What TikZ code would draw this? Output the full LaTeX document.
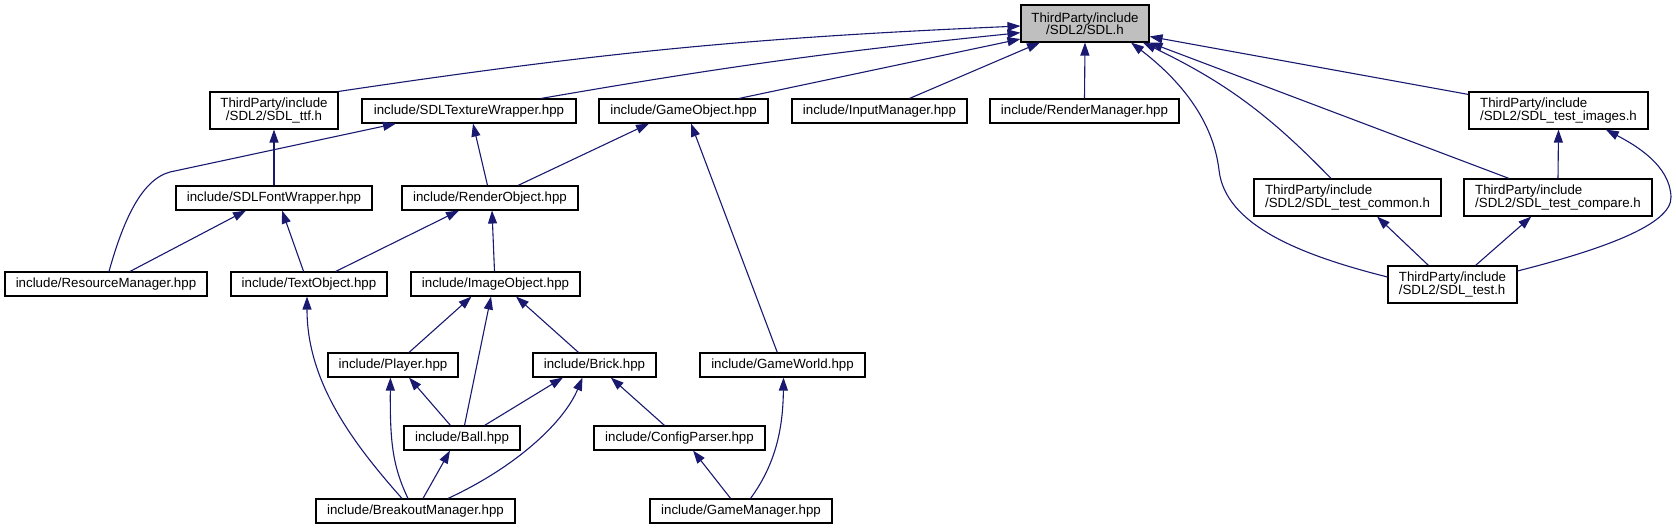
\documentclass[tikz,border=0pt]{standalone}
\usepackage{fontspec}
\setmainfont{Liberation Sans}
\usetikzlibrary{arrows.meta,calc}
\definecolor{edgeblue}{HTML}{191970}
\definecolor{rootgrey}{HTML}{BFBFBF}
\begin{document}
\begin{tikzpicture}[x=1pt,y=-1pt,
  box/.style={draw=black,line width=1.1pt,fill=white,inner sep=0pt,minimum height=24pt,font=\fontsize{13.3}{12.4}\selectfont,text=black},
  tall/.style={box,minimum height=37pt},
  edge/.style={draw=edgeblue,line width=1.1pt,-{Triangle[length=13pt,width=9pt]}}]
\useasboundingbox (0,0) rectangle (1676,529);
% nodes
\node[tall,fill=rootgrey,minimum width=128pt,align=center] (sdl) at (1085,23.5) {ThirdParty/include\\/SDL2/SDL.h};
\node[tall,minimum width=128pt,align=center] (ttf) at (274,110.5) {ThirdParty/include\\/SDL2/SDL\_ttf.h};
\node[box,minimum width=214pt] (tex) at (469,111) {include/SDLTextureWrapper.hpp};
\node[box,minimum width=169pt] (gobj) at (683.5,111) {include/GameObject.hpp};
\node[box,minimum width=175pt] (inp) at (879.5,111) {include/InputManager.hpp};
\node[box,minimum width=189pt] (rman) at (1084.5,111) {include/RenderManager.hpp};
\node[tall,minimum width=179pt,align=left] (images) at (1558.5,110.5) {ThirdParty/include\\/SDL2/SDL\_test\_images.h};
\node[box,minimum width=196pt] (font) at (274,198) {include/SDLFontWrapper.hpp};
\node[box,minimum width=176pt] (robj) at (490,198) {include/RenderObject.hpp};
\node[tall,minimum width=187pt,align=left] (tcom) at (1347.5,197.5) {ThirdParty/include\\/SDL2/SDL\_test\_common.h};
\node[tall,minimum width=188pt,align=left] (tcmp) at (1558,197.5) {ThirdParty/include\\/SDL2/SDL\_test\_compare.h};
\node[tall,minimum width=129pt,align=left] (test) at (1452.5,284.5) {ThirdParty/include\\/SDL2/SDL\_test.h};
\node[box,minimum width=202pt] (res) at (106,284) {include/ResourceManager.hpp};
\node[box,minimum width=156pt] (txt) at (309,284) {include/TextObject.hpp};
\node[box,minimum width=169pt] (iobj) at (495.5,284) {include/ImageObject.hpp};
\node[box,minimum width=130pt] (player) at (393,365) {include/Player.hpp};
\node[box,minimum width=123pt] (brick) at (594.5,365) {include/Brick.hpp};
\node[box,minimum width=165pt] (gw) at (782.5,365) {include/GameWorld.hpp};
\node[box,minimum width=116pt] (ball) at (462,438) {include/Ball.hpp};
\node[box,minimum width=171pt] (cfg) at (679.5,438) {include/ConfigParser.hpp};
\node[box,minimum width=199pt] (bm) at (415.5,511) {include/BreakoutManager.hpp};
\node[box,minimum width=182pt] (gm) at (741,511) {include/GameManager.hpp};
% edges into SDL.h
\draw[edge] (ttf.north east) to[bend left=3] ($(sdl.west)+(0,2.5)$);
\draw[edge] ($(tex.north)+(72,0)$) to[bend left=2] ($(sdl.west)+(0,9.2)$);
\draw[edge] ($(gobj.north)+(55.5,0)$) -- ($(sdl.west)+(0,15.5)$);
\draw[edge] ($(inp.north)+(30,0)$) -- ($(sdl.south)+(-45,0)$);
\draw[edge] (rman.north) -- (sdl.south);
\draw[edge] ($(images.north west)+(0,3)$) -- ($(sdl.east)+(0,13)$);
\draw[edge] ($(tcom.north)+(-16.5,0)$) to[bend right=10] ($(sdl.south)+(58,0)$);
\draw[edge] ($(tcmp.north)+(-49,0)$) -- (sdl.south east);
\draw[edge] ($(test.west)+(0,-7.5)$) .. controls (1300,255) and (1225,225) .. (1219,170) .. controls (1213,120) and (1180,80) .. ($(sdl.south)+(46,0)$);
% right cluster
\draw[edge] ($(test.north)+(-24,0)$) -- ($(tcom.south)+(29.5,0)$);
\draw[edge] ($(test.north)+(23,0)$) -- ($(tcmp.south)+(-26.7,0)$);
\draw[edge] (tcmp.north) -- (images.south);
\draw[edge] ($(test.east)+(0,-13.5)$) .. controls (1600,250) and (1672,225) .. (1671,197) .. controls (1670,165) and (1635,145) .. ($(images.south)+(47.3,0)$);
% left cluster
\draw[edge] ($(res.north)+(3,0)$) .. controls (122,225) and (140,180) .. (170,172) -- ($(tex.south)+(-73,0)$);
\draw[edge] (font.north) -- (ttf.south);
\draw[edge] ($(robj.north)+(-2.5,0)$) -- ($(tex.south)+(4,0)$);
\draw[edge] ($(robj.north)+(28,0)$) -- ($(gobj.south)+(-34.5,0)$);
\draw[edge] ($(gw.north)+(-5.2,0)$) -- ($(gobj.south)+(7.5,0)$);
\draw[edge] ($(res.north)+(24,0)$) -- ($(font.south)+(-28,0)$);
\draw[edge] ($(txt.north)+(-5.4,0)$) -- ($(font.south)+(8,0)$);
\draw[edge] ($(txt.north)+(26.7,0)$) -- ($(robj.south)+(-31,0)$);
\draw[edge] ($(iobj.north)+(-1,0)$) -- ($(robj.south)+(2,0)$);
\draw[edge] ($(player.north)+(16,0)$) -- ($(iobj.south)+(-24,0)$);
\draw[edge] ($(ball.north)+(2.5,0)$) -- ($(iobj.south)+(-4.5,0)$);
\draw[edge] ($(brick.north)+(-16,0)$) -- ($(iobj.south)+(20.5,0)$);
\draw[edge] ($(bm.north)+(-13.5,0)$) .. controls (350,440) and (307,380) .. ($(txt.south)+(-2,0)$);
\draw[edge] ($(bm.north)+(-7.5,0)$) .. controls (392,465) and (390,440) .. ($(player.south)+(-2.6,0)$);
\draw[edge] ($(ball.north)+(-11.5,0)$) -- ($(player.south)+(16,0)$);
\draw[edge] ($(ball.north)+(22.5,0)$) -- ($(brick.south)+(-31.5,0)$);
\draw[edge] ($(bm.north)+(32.5,0)$) .. controls (520,465) and (565,420) .. ($(brick.south)+(-12,0)$);
\draw[edge] ($(bm.north)+(7.5,0)$) -- ($(ball.south)+(-12,0)$);
\draw[edge] ($(cfg.north)+(-15,0)$) -- ($(brick.south)+(16.3,0)$);
\draw[edge] ($(gm.north)+(-10.4,0)$) -- ($(cfg.south)+(13.5,0)$);
\draw[edge] ($(gm.north)+(9.5,0)$) .. controls (775,465) and (783,430) .. ($(gw.south)+(1,0)$);
\end{tikzpicture}
\end{document}
